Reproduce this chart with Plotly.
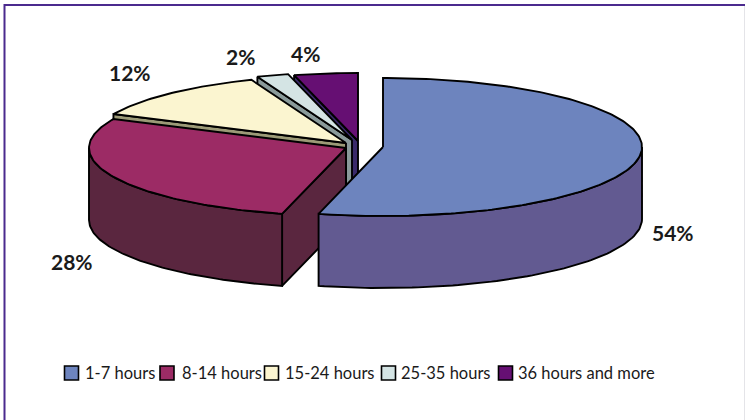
import math
import plotly.graph_objects as go

categories = ["1-7 hours", "8-14 hours", "15-24 hours", "25-35 hours", "36 hours and more"]
shares = [54, 28, 12, 2, 4]
value_labels = ["54%", "28%", "12%", "2%", "4%"]

top_colors = ["#6D84BE", "#9C2B65", "#FBF5D0", "#D4E4E4", "#660F73"]
side_colors = ["#625A91", "#5A263F", "#9C9A77", "#8A9A9A", "#3A2A6A"]

# Projection of the tilted pie, in page pixels
DEPTH = 72
radii = [(259, 69), (257, 68), (257, 68), (257, 68), (257, 68)]
apexes = [(383, 147), (346, 148), (346, 143), (352, 140), (358, 141)]
draw_order = [4, 3, 2, 1, 0]
label_pos = [(673, 232), (72, 261), (130, 72), (240, 56), (305, 53)]
legend_box_x = [71.5, 167, 271.5, 388.5, 505.5]
legend_text_x = [85, 182, 285, 401, 518]
legend_y = 373

fig = go.Figure()


def add_poly(xs, ys, fill):
    fig.add_trace(go.Scatter(
        x=xs + xs[:1], y=ys + ys[:1], mode="lines", fill="toself",
        fillcolor=fill, line=dict(color="#000000", width=1.9),
        hoverinfo="skip", showlegend=False,
    ))


def rim(i, a, dy=0.0):
    cx, cy = apexes[i]
    rx, ry = radii[i]
    return cx + rx * math.sin(a), cy - ry * math.cos(a) + dy


cum = [0]
for s in shares:
    cum.append(cum[-1] + s)
total = cum[-1]

for i in draw_order:
    cx, cy = apexes[i]
    a0 = 2 * math.pi * cum[i] / total
    a1 = 2 * math.pi * cum[i + 1] / total
    # radial wall at the start edge, if it faces the viewer
    if math.pi < a0 < 2 * math.pi:
        px, py = rim(i, a0)
        add_poly([cx, px, px, cx], [cy, py, py + DEPTH, cy + DEPTH], side_colors[i])
    # outer curved wall for the front half
    lo, hi = max(a0, math.pi / 2), min(a1, 3 * math.pi / 2)
    if lo < hi:
        n = 80
        angs = [lo + (hi - lo) * k / n for k in range(n + 1)]
        top = [rim(i, a) for a in angs]
        bot = [rim(i, a, DEPTH) for a in reversed(angs)]
        add_poly([p[0] for p in top + bot], [p[1] for p in top + bot], side_colors[i])
    # top face
    n = max(8, int((a1 - a0) * 60))
    angs = [a0 + (a1 - a0) * k / n for k in range(n + 1)]
    pts = [rim(i, a) for a in angs]
    add_poly([cx] + [p[0] for p in pts], [cy] + [p[1] for p in pts], top_colors[i])

# legend swatches
for bx, c in zip(legend_box_x, top_colors):
    fig.add_trace(go.Scatter(
        x=[bx], y=[legend_y], mode="markers",
        marker=dict(symbol="square", size=14, color=c, line=dict(color="#000000", width=1.6)),
        hoverinfo="skip", showlegend=False,
    ))

annotations = []
for (lx, ly), t in zip(label_pos, value_labels):
    annotations.append(dict(
        x=lx, y=ly, text=f"<b>{t}</b>", showarrow=False, xanchor="center", yanchor="middle",
        font=dict(family="Lato", size=21, color="#1a1a1a"),
    ))
for tx, name in zip(legend_text_x, categories):
    annotations.append(dict(
        x=tx, y=legend_y, text=name, showarrow=False, xanchor="left", yanchor="middle",
        xshift=-2,
        font=dict(family="Lato", size=16.5, color="#1a1a1a"),
    ))

frame_shapes = [
    dict(type="line", x0=4.5, x1=745, y0=5, y1=5, line=dict(color="#4B2A8E", width=2)),
    dict(type="line", x0=4.5, x1=4.5, y0=4, y1=420, line=dict(color="#4B2A8E", width=2)),
    dict(type="line", x0=744.5, x1=744.5, y0=6, y1=420, line=dict(color="#E4E4E8", width=1)),
]

fig.update_layout(
    width=745, height=420, autosize=False,
    margin=dict(l=0, r=0, t=0, b=0),
    paper_bgcolor="#FFFFFF", plot_bgcolor="#FFFFFF",
    xaxis=dict(range=[0, 745], visible=False, fixedrange=True),
    yaxis=dict(range=[420, 0], visible=False, fixedrange=True),
    annotations=annotations, shapes=frame_shapes, showlegend=False,
)
fig.write_html("out.html", config={"displayModeBar": False},
               post_script="document.body.style.margin='0';document.body.style.overflow='hidden';")
